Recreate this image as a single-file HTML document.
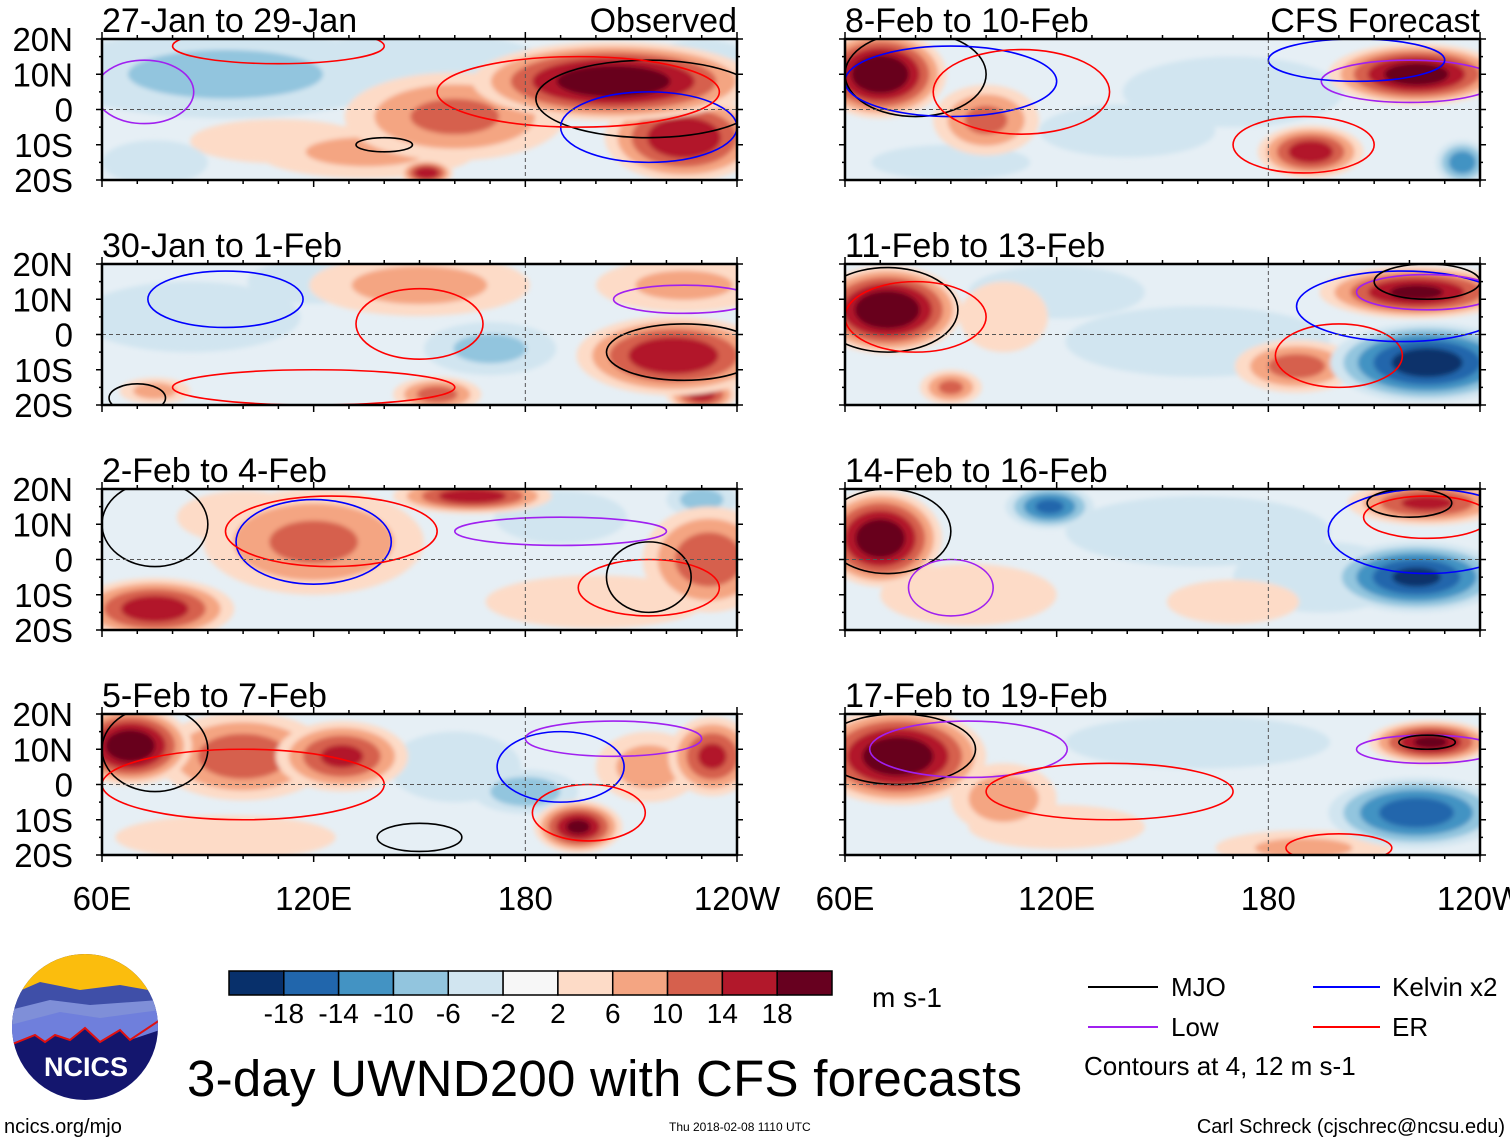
<!DOCTYPE html>
<html><head><meta charset="utf-8">
<style>
html,body{margin:0;padding:0;background:#fff;}
body{width:1510px;height:1142px;overflow:hidden;position:relative;font-family:"Liberation Sans",Arial,sans-serif;}
</style></head>
<body>
<svg id="fig" width="1510" height="1142" viewBox="0 0 1510 1142" xmlns="http://www.w3.org/2000/svg" font-family="Liberation Sans, Arial, sans-serif">
<defs>
<filter id="soft" x="-20%" y="-20%" width="140%" height="140%"><feGaussianBlur stdDeviation="2.5"/></filter>
</defs>
<g id="panels"></g>
<g id="bottom-axis"></g>

<g id="colorbar"></g>
<text x="872" y="1007" font-size="28">m s-1</text>

<g font-size="26">
 <line x1="1088" y1="987" x2="1158" y2="987" stroke="#000" stroke-width="2"/>
 <text x="1171" y="996">MJO</text>
 <line x1="1313" y1="987" x2="1380" y2="987" stroke="#0000ff" stroke-width="2"/>
 <text x="1392" y="996">Kelvin x2</text>
 <line x1="1088" y1="1027" x2="1158" y2="1027" stroke="#a020f0" stroke-width="2"/>
 <text x="1171" y="1036">Low</text>
 <line x1="1313" y1="1027" x2="1380" y2="1027" stroke="#ff0000" stroke-width="2"/>
 <text x="1392" y="1036">ER</text>
 <text x="1084" y="1075">Contours at 4, 12 m s-1</text>
</g>

<text x="187" y="1096" font-size="51" textLength="835">3-day UWND200 with CFS forecasts</text>
<text x="4" y="1133" font-size="20">ncics.org/mjo</text>
<text x="669" y="1131" font-size="12">Thu 2018-02-08 1110 UTC</text>
<text x="1505" y="1133" font-size="20" text-anchor="end">Carl Schreck (cjschrec@ncsu.edu)</text>

<g>
 <clipPath id="logoclip"><circle cx="85" cy="1027" r="73"/></clipPath>
 <g clip-path="url(#logoclip)">
  <rect x="10" y="952" width="150" height="150" fill="#14166e"/>
  <rect x="10" y="952" width="150" height="40" fill="#fbbd0d"/>
  <path d="M10 995 L40 982 L80 990 L120 985 L160 992 L160 1010 L10 1020Z" fill="#3f4fa8"/>
  <path d="M10 1010 L50 1000 L90 1005 L160 1000 L160 1020 L10 1030Z" fill="#7f8fd8"/>
  <path d="M10 1025 L60 1012 L100 1018 L160 1010 L160 1030 L130 1040 L120 1030 L100 1042 L85 1028 L70 1040 L55 1035 L45 1042 L35 1035 L10 1045Z" fill="#6f7fdc"/>
  <path d="M10 1045 L35 1035 L45 1042 L55 1035 L70 1040 L85 1028 L100 1042 L120 1030 L130 1040 L160 1020" fill="none" stroke="#e01010" stroke-width="2"/>
 </g>
 <text x="86" y="1076" font-size="27" font-weight="bold" fill="#fff" text-anchor="middle">NCICS</text>
</g>
</svg>

<script>
// ---- data ----
const panelTitles = ["27-Jan to 29-Jan","30-Jan to 1-Feb","2-Feb to 4-Feb","5-Feb to 7-Feb","8-Feb to 10-Feb","11-Feb to 13-Feb","14-Feb to 16-Feb","17-Feb to 19-Feb"];
const latTicks = [20,10,0,-10,-20];
const latLabels = ["20N","10N","0","10S","20S"];
const lonTicks = [60,120,180,240];
const lonLabels = ["60E","120E","180","120W"];
const cbLevels = [-18,-14,-10,-6,-2,2,6,10,14,18];
const cbColors = ["#08306b","#2166ac","#4393c3","#92c5de","#d1e5f0","#f7f7f7","#fddbc7","#f4a582","#d6604d","#b2182b","#67001f"];
// anomaly centres per panel: [lon, lat, value, spreadLon(deg), spreadLat(deg)]
const blobsP1 = [[95,10,-7,40,10],[150,12,-6,30,8],[205,8,22,32,9],[225,-8,18,18,10],[160,-2,11,25,10],[135,-12,7,25,6],[152,-18,18,6,3],[110,-9,5,20,5],[75,-15,-5,12,5],[230,15,-5,10,4]];
const blobsP2 = [[222,-6,18,22,9],[150,14,8,25,7],[225,14,7,20,6],[170,-4,-7,15,6],[85,5,-6,25,8],[120,15,-5,15,5],[155,-17,12,10,4],[75,-16,8,8,3],[230,-17,16,8,4]];
const blobsP3 = [[75,-14,17,18,7],[120,5,11,25,12],[165,18,17,18,4],[232,0,13,15,12],[190,12,-5,15,6],[230,17,-8,8,4],[100,12,6,15,6],[200,-12,5,25,6]];
const blobsP4 = [[68,11,22,14,9],[100,8,13,20,10],[128,8,15,15,8],[195,-12,19,10,6],[180,-2,-9,12,5],[233,8,15,10,9],[160,5,-6,15,8],[95,-15,5,25,5],[215,5,8,12,8]];
const blobsP5 = [[70,10,23,15,10],[100,-3,11,12,8],[222,10,21,20,7],[192,-12,17,12,6],[235,-15,-13,6,5],[140,-6,-6,20,6],[90,-15,-6,18,4],[170,5,-3,25,8]];
const blobsP6 = [[72,7,23,17,10],[225,-8,-21,22,9],[222,12,19,22,6],[188,-9,12,14,6],[90,-15,11,7,4],[120,12,-6,20,6],[160,-2,-5,30,8],[105,5,6,10,8]];
const blobsP7 = [[70,6,22,14,11],[222,-5,-19,20,8],[118,15,-15,10,5],[225,16,15,18,5],[160,8,-6,30,8],[95,-10,6,20,7],[170,-12,6,15,5],[195,-5,-5,20,8]];
const blobsP8 = [[75,8,22,20,11],[222,-8,-17,20,8],[226,12,19,14,5],[105,-4,9,12,8],[160,12,-5,30,6],[190,-18,7,20,4],[120,-12,5,20,5]];
const panelBlobs = [blobsP1,blobsP2,blobsP3,blobsP4,blobsP5,blobsP6,blobsP7,blobsP8];
// contours per panel: [kind, lon, lat, spreadLon, spreadLat]
const contP1 = [["mjo",215,3,32,11],["kelvin",215,-5,25,10],["low",72,5,14,9],["er",195,5,40,10],["er",110,18,30,5],["mjo",140,-10,8,2]];
const contP2 = [["mjo",225,-5,22,8],["er",150,3,18,10],["kelvin",95,10,22,8],["low",225,10,20,4],["er",120,-15,40,5],["mjo",70,-18,8,4]];
const contP3 = [["mjo",75,10,15,12],["kelvin",120,5,22,12],["er",125,8,30,10],["er",215,-8,20,8],["low",190,8,30,4],["mjo",215,-5,12,10]];
const contP4 = [["mjo",75,10,15,12],["kelvin",190,5,18,10],["low",205,13,25,5],["er",198,-8,16,8],["mjo",150,-15,12,4],["er",100,0,40,10]];
const contP5 = [["mjo",80,10,20,12],["kelvin",90,8,30,10],["er",110,5,25,12],["er",190,-10,20,8],["low",220,8,25,6],["kelvin",205,14,25,6]];
const contP6 = [["mjo",72,7,20,12],["er",80,5,20,10],["er",200,-6,18,9],["kelvin",218,8,30,10],["low",225,12,20,5],["mjo",225,15,15,5]];
const contP7 = [["mjo",72,8,18,12],["kelvin",225,8,28,12],["low",90,-8,12,8],["er",225,12,18,6],["mjo",220,16,12,4]];
const contP8 = [["mjo",75,10,22,10],["low",95,10,28,8],["er",135,-2,35,8],["low",225,10,20,4],["er",200,-18,15,4],["mjo",225,12,8,2]];
const panelConts = [contP1,contP2,contP3,contP4,contP5,contP6,contP7,contP8];

// ---- layout ----
const NS="http://www.w3.org/2000/svg";
const colX=[102,845], rowY=[39,264,489,714], PW=635, PH=141;
const SPREAD=1.25;
const contColor={mjo:"#000",kelvin:"#0000ff",low:"#a020f0",er:"#ff0000"};
function mk(tag,attrs,parent){const e=document.createElementNS(NS,tag);for(const k in attrs)e.setAttribute(k,attrs[k]);parent.appendChild(e);return e;}
function colorFor(v){let i=0;while(i<cbLevels.length&&v>cbLevels[i])i++;return cbColors[i];}

const panelsG=document.getElementById("panels");
panelTitles.forEach((title,pi)=>{
  const col=pi<4?0:1,row=pi%4;
  const x0=colX[col],y0=rowY[row];
  const xs=lon=>x0+(lon-60)/180*PW;
  const ys=lat=>y0+(20-lat)/40*PH;
  const g=mk("g",{},panelsG);
  
  
  const cid="clip"+pi;
  const cp=mk("clipPath",{id:cid},g);mk("rect",{x:x0,y:y0,width:PW,height:PH},cp);
  const inner=mk("g",{"clip-path":"url(#"+cid+")"},g);
  mk("rect",{x:x0,y:y0,width:PW,height:PH,fill:"#e6eff5"},inner);
  const fg=mk("g",{filter:"url(#soft)"},inner);
  const blobs=panelBlobs[pi].slice().sort((a,b)=>Math.abs(a[2])-Math.abs(b[2]));
  blobs.forEach(b=>{
    const [lon,lat,val,sl,sa]=b;const av=Math.abs(val),sg=Math.sign(val);
    const lv=[2,6,10,14,18].filter(L=>L<av);
    lv.forEach(L=>{
      const f=Math.pow(1-(L-2)/av,0.7)*SPREAD;
      const e=mk("ellipse",{cx:xs(lon),cy:ys(lat),rx:f*sl/180*PW,ry:f*sa/40*PH,fill:colorFor(sg*(L+1))},fg);
      
      
    });
  });
  panelConts[pi].forEach(c=>{
    const [k,lon,lat,sl,sa]=c;
    const e=mk("ellipse",{cx:xs(lon),cy:ys(lat),rx:sl/180*PW,ry:sa/40*PH,fill:"none",stroke:contColor[k],"stroke-width":1.6},inner);
    
    
  });
  mk("line",{x1:x0,y1:ys(0),x2:x0+PW,y2:ys(0),stroke:"#555","stroke-width":1,"stroke-dasharray":"4,3"},inner);
  mk("line",{x1:xs(180),y1:y0,x2:xs(180),y2:y0+PH,stroke:"#555","stroke-width":1,"stroke-dasharray":"4,3"},inner);
  const fr=mk("rect",{x:x0,y:y0,width:PW,height:PH,fill:"none",stroke:"#000","stroke-width":2.5},g);
  
  
  for(let lon=60;lon<=240;lon+=10){const l=lon%60===0?7:4;
    mk("line",{x1:xs(lon),y1:y0+PH,x2:xs(lon),y2:y0+PH+l,stroke:"#000","stroke-width":1.5},g);
    mk("line",{x1:xs(lon),y1:y0,x2:xs(lon),y2:y0-l,stroke:"#000","stroke-width":1.5},g);}
  for(let lat=-20;lat<=20;lat+=5){const l=lat%10===0?6:3;
    mk("line",{x1:x0,y1:ys(lat),x2:x0-l,y2:ys(lat),stroke:"#000","stroke-width":1.5},g);
    mk("line",{x1:x0+PW,y1:ys(lat),x2:x0+PW+l,y2:ys(lat),stroke:"#000","stroke-width":1.5},g);}
  const t=mk("text",{x:x0,y:y0-7,"font-size":34},g);t.textContent=title;
  
  
  if(row===0){const r=mk("text",{x:x0+PW,y:y0-7,"font-size":34,"text-anchor":"end"},g);r.textContent=col===0?"Observed":"CFS Forecast";
    
    }
  if(col===0){latTicks.forEach((lt,i)=>{const tt=mk("text",{x:73,y:ys(lt)+12,"font-size":33,"text-anchor":"end"},g);tt.textContent=latLabels[i];
    
    });}
});
const ba=document.getElementById("bottom-axis");
colX.forEach(x0=>{lonTicks.forEach((ln,i)=>{const t=mk("text",{x:x0+(ln-60)/180*PW,y:910,"font-size":33,"text-anchor":"middle"},ba);t.textContent=lonLabels[i];
  
  });});
const cb=document.getElementById("colorbar");
const cbx=229,cbw=603/cbColors.length;
cbColors.forEach((c,i)=>{const r=mk("rect",{x:cbx+i*cbw,y:971,width:cbw,height:24,fill:c,stroke:"#000","stroke-width":1.5},cb);
  
  });
cbLevels.forEach((v,i)=>{const t=mk("text",{x:cbx+(i+1)*cbw,y:1023,"font-size":28,"text-anchor":"middle"},cb);t.textContent=v;
  
  });
</script>
</body></html>
